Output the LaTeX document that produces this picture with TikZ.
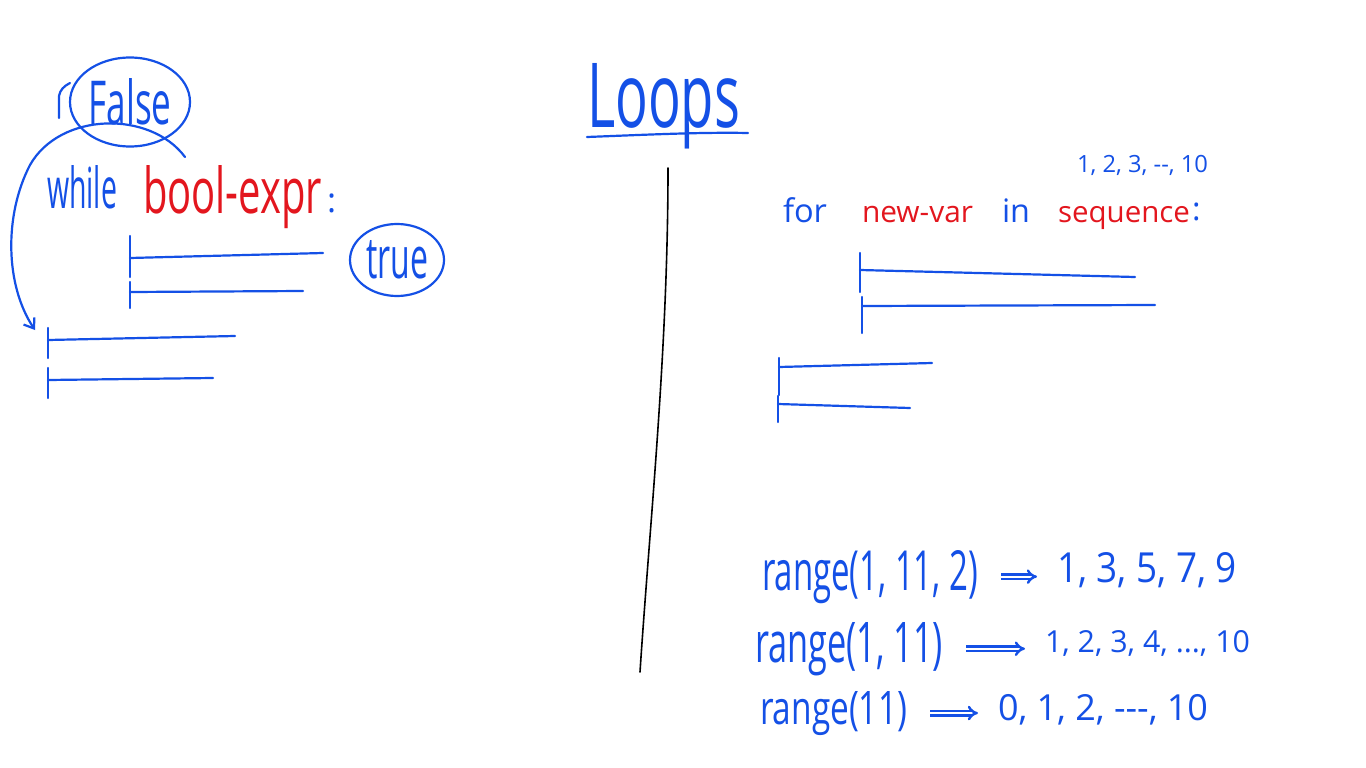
\documentclass[tikz,border=0pt]{standalone}
\usepackage{fontspec}
\setmainfont{Open Sans}
\usepackage{graphicx}
\usetikzlibrary{arrows.meta,shapes.geometric}
\definecolor{penblue}{HTML}{1450E6}
\definecolor{penred}{HTML}{E3161E}
\tikzset{
  pen/.style={draw=penblue, line width=2.2pt, line cap=round, line join=round},
  txt/.style={anchor=base west, inner sep=0pt, outer sep=0pt, text=penblue},
  redtxt/.style={txt, text=penred},
  bubble/.style={pen, ellipse, inner sep=0pt, text=penblue},
  imp/.style={draw=penblue, line width=2.4pt, double=white, double distance=2.2pt, -{Implies}, shorten <=23pt, shorten >=20pt},
  divider/.style={draw=black, line width=1.6pt, line cap=round},
}
\newcommand\fitw[2]{\resizebox{#1}{!}{#2}}
\newcommand\fitwh[3]{\resizebox{#1}{#2}{#3}}
\begin{document}
\begin{tikzpicture}[x=1pt,y=-1pt]
\fill[white] (0,0) rectangle (1366,768);
\useasboundingbox (0,0) rectangle (1366,768);

% title and divider
\node[txt] (loops) at (587,128) {\fitwh{153pt}{64pt}{Loops}};
\coordinate (ul1) at (587,137);
\coordinate (ul2) at (748,133);
\draw[pen] (ul1) .. controls (640,135) and (700,132) .. (ul2);
\coordinate (d1) at (668,168);
\coordinate (d2) at (640,672);
\draw[divider] (d1) .. controls (668,350) and (650,520) .. (d2);

% while loop
\node[txt] (while) at (47,208) {\fitwh{70pt}{43pt}{while}};
\node[redtxt] (cond) at (143,213) {\fitwh{179pt}{48pt}{bool-expr}};
\node[txt] (c1) at (327,212) {\fontsize{34}{38}\selectfont :};
\node[bubble, minimum width=120pt, minimum height=89pt] (false) at (130,102) {\fitwh{83pt}{46pt}{False}};
\draw[pen] (59,118) -- (59,96) .. controls (60,90) and (64,86) .. (70,83);
\node[bubble, minimum width=94pt, minimum height=72pt] (true) at (397,260) {\fitwh{62pt}{38pt}{true}};
\coordinate (lpstart) at (185,157);
\coordinate (lpend) at (35,330);
\draw[pen, -{Straight Barb[length=9pt,width=13pt]}] (lpstart) .. controls (150,110) and (60,112) .. (30,165) .. controls (4,215) and (5,285) .. (lpend);

\draw[pen] (130,236) -- (130,277);
\draw[pen] (130,258) -- (323,253);
\draw[pen] (130,282) -- (130,308);
\draw[pen] (130,292) -- (303,291);
\draw[pen] (48,328) -- (48,358);
\draw[pen] (48,340) -- (235,336);
\draw[pen] (48,368) -- (48,398);
\draw[pen] (48,380) -- (213,378);

% for loop
\node[txt] (for) at (783,222) {\fitw{44pt}{for}};
\node[redtxt] (var) at (862,222) {\fitw{111pt}{new-var}};
\node[txt] (in) at (1002,222) {\fitw{28pt}{in}};
\node[redtxt] (seq) at (1058,222) {\fitw{132pt}{sequence}};
\node[txt] (c2) at (1192,220) {\fontsize{32}{36}\selectfont :};
\node[txt] (seqex) at (1077,172) {\fitw{131pt}{1, 2, 3, -{}-, 10}};

\draw[pen] (860,253) -- (860,292);
\draw[pen] (860,270) -- (1135,277);
\draw[pen] (862,297) -- (862,333);
\draw[pen] (862,306) -- (1155,305);
\draw[pen] (779,358) -- (779,395);
\draw[pen] (779,367) -- (932,363);
\draw[pen] (778,396) -- (778,422);
\draw[pen] (778,404) -- (910,408);

% range examples
\node[txt] (r1) at (762,590) {\fitwh{216pt}{40pt}{range(1, 11, 2)}};
\node[txt] (v1) at (1057,582) {\fitwh{180pt}{30pt}{1, 3, 5, 7, 9}};
\draw[imp] (r1.east) -- (r1.east -| v1.west);
\node[txt] (r2) at (755,662) {\fitwh{188pt}{40pt}{range(1, 11)}};
\node[txt] (v2) at (1045,652) {\fitw{205pt}{1, 2, 3, 4, ..., 10}};
\draw[imp] (r2.east) -- (r2.east -| v2.west);
\node[txt] (r3) at (760,724) {\fitwh{147pt}{33pt}{range(11)}};
\node[txt] (v3) at (998,720) {\fitw{210pt}{0, 1, 2, -{}-{}-, 10}};
\draw[imp] (r3.east) -- (r3.east -| v3.west);
\end{tikzpicture}
\end{document}
